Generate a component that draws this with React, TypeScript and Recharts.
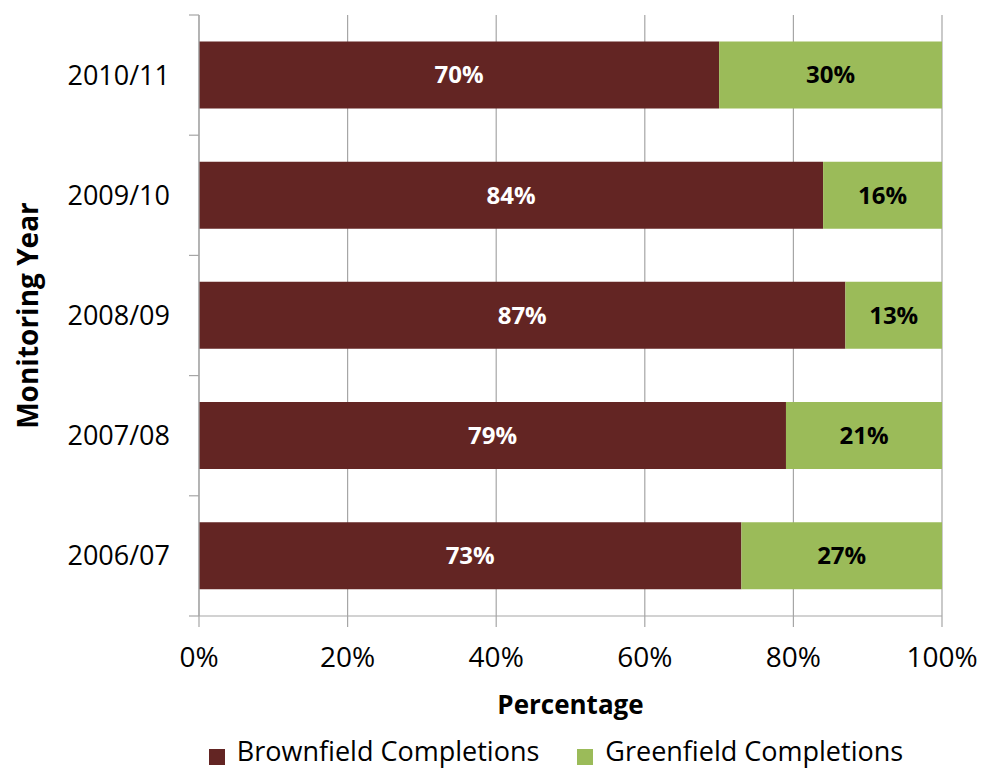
import {
  BarChart,
  Bar,
  XAxis,
  YAxis,
  CartesianGrid,
  Legend,
  LabelList
} from "recharts";

const years = ["2010/11", "2009/10", "2008/09", "2007/08", "2006/07"];
const brownfield = [70, 84, 87, 79, 73];
const greenfield = [30, 16, 13, 21, 27];
const percentTicks = [0, 20, 40, 60, 80, 100];

const chartData = years.map((year, i) => ({
  year,
  "Brownfield Completions": brownfield[i],
  "Greenfield Completions": greenfield[i]
}));

const FONT = "'Open Sans', sans-serif";
const GRID = "#a6a6a6";

// year label at band centre, tick marks at the band edges (Excel style)
function YearTick(props: any) {
  const { x, y, payload, height, visibleTicksCount, index } = props;
  const half = payload.offset || height / visibleTicksCount / 2;
  const axisX = x + 6 + 23;
  return (
    <g>
      <line x1={axisX - 10} x2={axisX} y1={y - half} y2={y - half} stroke={GRID} strokeWidth={1.2} />
      {index === visibleTicksCount - 1 ? (
        <line x1={axisX - 10} x2={axisX} y1={y + half} y2={y + half} stroke={GRID} strokeWidth={1.2} />
      ) : null}
      <text x={x} y={y} dy="0.35em" textAnchor="end" fill="#000" fontSize={27} fontFamily={FONT}>
        {payload.value}
      </text>
    </g>
  );
}

export default function App() {
  return (
    <div style={{ position: "absolute", left: 0, top: 0, width: 983, height: 770, background: "#fff", fontFamily: FONT }}>
      <BarChart
        width={983}
        height={770}
        data={chartData}
        layout="vertical"
        barCategoryGap="22%"
        margin={{ top: 15, right: 41, bottom: 18, left: 0 }}
      >
        <CartesianGrid horizontal={false} stroke={GRID} strokeWidth={1.2} />
        <YAxis
          dataKey="year"
          type="category"
          width={199}
          tickLine={false}
          axisLine={{ stroke: GRID, strokeWidth: 1.2 }}
          tick={<YearTick />}
          tickMargin={23}
          label={{
            value: "Monitoring Year",
            angle: -90,
            position: "insideLeft",
            offset: 28,
            style: { textAnchor: "middle", fill: "#000", fontSize: 28, fontWeight: 700, fontFamily: FONT }
          }}
        />
        <XAxis
          type="number"
          domain={[0, 100]}
          ticks={percentTicks}
          tickFormatter={(v) => `${v}%`}
          height={100}
          tickSize={11}
          tickMargin={20}
          axisLine={{ stroke: GRID, strokeWidth: 1.2 }}
          tickLine={{ stroke: GRID, strokeWidth: 1.2 }}
          tick={{ fill: "#000", fontSize: 28, fontFamily: FONT }}
          label={{
            value: "Percentage",
            position: "insideBottom",
            offset: 2,
            style: { fill: "#000", fontSize: 26, fontWeight: 700, fontFamily: FONT }
          }}
        />
        <Legend
          verticalAlign="bottom"
          height={36}
          iconType="square"
          iconSize={16}
          wrapperStyle={{ left: 140, width: 870, bottom: 0, lineHeight: "34px" }}
          formatter={(value) => (
            <span style={{ color: "#000", fontSize: 27, fontFamily: FONT, marginLeft: 8, marginRight: 28 }}>{value}</span>
          )}
        />
        <Bar dataKey="Brownfield Completions" stackId="a" fill="#632523" isAnimationActive={false}>
          <LabelList
            dataKey="Brownfield Completions"
            position="center"
            formatter={(v) => `${v}%`}
            style={{ fill: "#fff", fontSize: 24, fontWeight: 700, fontFamily: FONT }}
          />
        </Bar>
        <Bar dataKey="Greenfield Completions" stackId="a" fill="#9bbb59" isAnimationActive={false}>
          <LabelList
            dataKey="Greenfield Completions"
            position="center"
            formatter={(v) => `${v}%`}
            style={{ fill: "#000", fontSize: 24, fontWeight: 700, fontFamily: FONT }}
          />
        </Bar>
      </BarChart>
    </div>
  );
}
